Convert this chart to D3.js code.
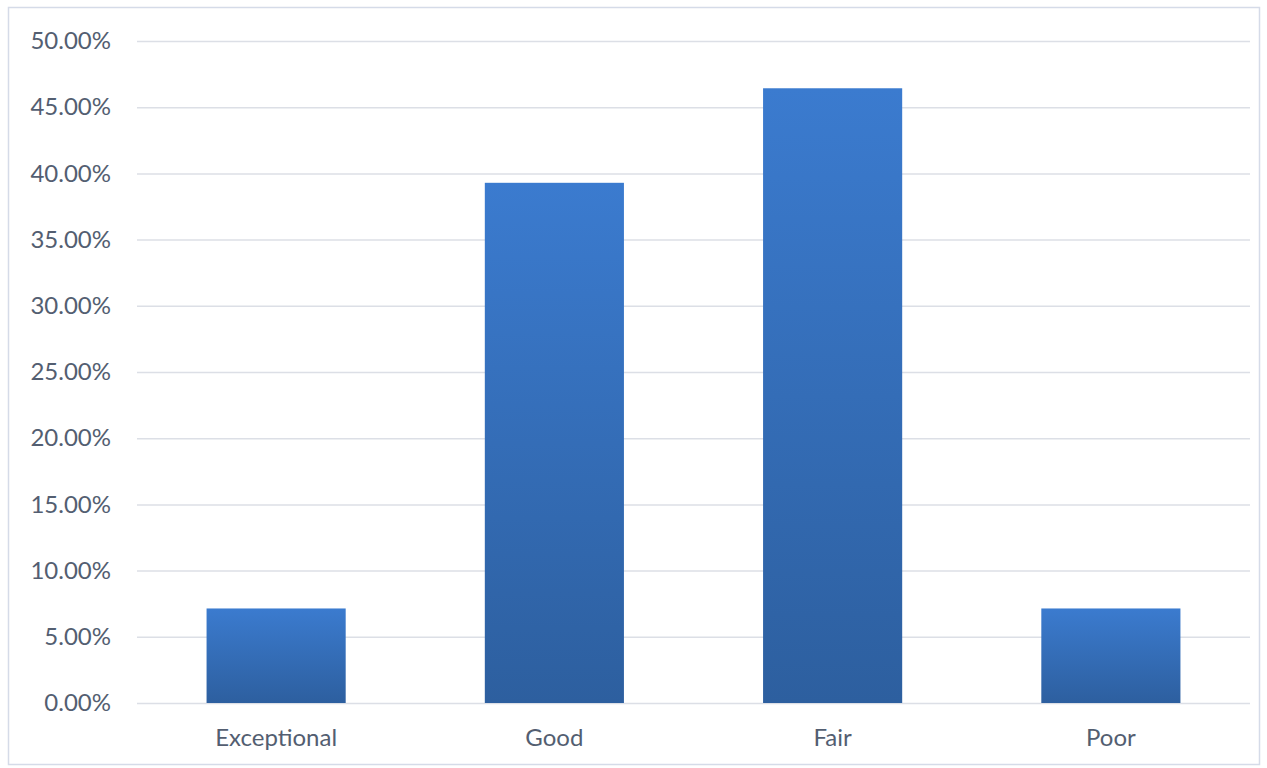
<!DOCTYPE html>
<html>
<head>
<meta charset="utf-8">
<script src="https://cdn.jsdelivr.net/npm/d3@7"></script>
<style>
  html, body { margin: 0; padding: 0; background: #ffffff; }
  svg { display: block; }
  .tick text { font-family: Lato, "Open Sans", sans-serif; }
</style>
</head>
<body>
<svg id="chart" width="1267" height="768"></svg>
<script>
// Rating distribution (share of responses)
const categories = ["Exceptional", "Good", "Fair", "Poor"];
const shares = [0.0714, 0.3929, 0.4643, 0.0714];
const yTicks = [0, 0.05, 0.10, 0.15, 0.20, 0.25, 0.30, 0.35, 0.40, 0.45, 0.50];

const width = 1267, height = 768;
const margin = { top: 41, right: 17, bottom: 65, left: 137 };
const innerW = width - margin.left - margin.right;
const innerH = height - margin.top - margin.bottom;

const svg = d3.select("#chart");

// chart frame
svg.append("rect")
  .attr("x", 8.5).attr("y", 7.5)
  .attr("width", 1251).attr("height", 757)
  .attr("fill", "#ffffff")
  .attr("stroke", "#d5dbe8")
  .attr("stroke-width", 1.5);

const defs = svg.append("defs");
const grad = defs.append("linearGradient")
  .attr("id", "barFill")
  .attr("x1", 0).attr("y1", 0).attr("x2", 0).attr("y2", 1);
grad.append("stop").attr("offset", "0%").attr("stop-color", "#3b7bcf");
grad.append("stop").attr("offset", "100%").attr("stop-color", "#2d5f9f");

const g = svg.append("g").attr("transform", `translate(${margin.left},${margin.top})`);

const x = d3.scaleBand().domain(categories).range([0, innerW]).paddingInner(0.5).paddingOuter(0.25);
const y = d3.scaleLinear().domain([0, 0.5]).range([innerH, 0]);

// horizontal gridlines + y labels
const yAxis = d3.axisLeft(y)
  .tickValues(yTicks)
  .tickSize(-innerW)
  .tickPadding(26)
  .tickFormat(d3.format(".2%"));

const yg = g.append("g").call(yAxis);
yg.select(".domain").remove();
yg.selectAll(".tick line").attr("stroke", "#dcdfe6").attr("stroke-width", 1.5);
yg.selectAll(".tick text")
  .attr("fill", "#535e71")
  .attr("font-size", 24);

// bars
g.selectAll("rect.bar")
  .data(categories.map((c, i) => ({ c, v: shares[i] })))
  .join("rect")
  .attr("class", "bar")
  .attr("x", d => x(d.c))
  .attr("y", d => y(d.v))
  .attr("width", x.bandwidth())
  .attr("height", d => innerH - y(d.v))
  .attr("fill", "url(#barFill)");

// category axis
const xAxis = d3.axisBottom(x).tickSize(0).tickPadding(26);
const xg = g.append("g").attr("transform", `translate(0,${innerH})`).call(xAxis);
xg.select(".domain").remove();
xg.selectAll(".tick text")
  .attr("fill", "#535e71")
  .attr("font-size", 24);
</script>
</body>
</html>
